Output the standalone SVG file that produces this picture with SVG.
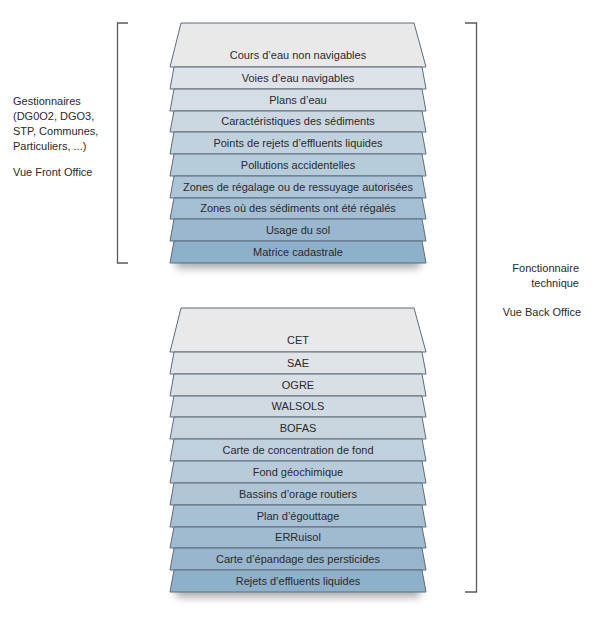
<svg xmlns="http://www.w3.org/2000/svg" width="595" height="624" viewBox="0 0 595 624">
<defs>
<filter id="sh" x="-20%" y="-100%" width="140%" height="300%"><feGaussianBlur stdDeviation="4"/></filter>
<style>
.ly{stroke:#5d6d7b;stroke-width:1;stroke-linejoin:round}
.t{font-family:"Liberation Sans",Arial,sans-serif;font-size:11px;fill:#2a2a2a;text-anchor:middle}
.s{font-family:"Liberation Sans",Arial,sans-serif;font-size:11px;fill:#2a2a2a}
.br{fill:none;stroke:#555a60;stroke-width:1.3}
</style>
</defs>
<rect width="595" height="624" fill="#ffffff"/>
<g id="shadows">
<rect x="176" y="256" width="244" height="12" fill="#000" opacity="0.35" filter="url(#sh)"/>
<rect x="176" y="585" width="244" height="12" fill="#000" opacity="0.35" filter="url(#sh)"/>
</g>
<g id="connectors">
<path class="br" d="M128,23 H117.5 V263 H128"/>
<path class="br" d="M465,23 H476.5 V592 H465"/>
</g>
<g id="front-office">
<g id="l1"><polygon class="ly" fill="#e9e9ea" points="181,23 414,23 426,67 170,67"/><text class="t" x="298" y="59">Cours d’eau non navigables</text></g>
<g id="l2"><polygon class="ly" fill="#dde3e8" points="174,67 422,67 426,89 170,89"/><text class="t" x="298" y="82">Voies d’eau navigables</text></g>
<g id="l3"><polygon class="ly" fill="#d5dee5" points="174,89 422,89 426,111 170,111"/><text class="t" x="298" y="104">Plans d’eau</text></g>
<g id="l4"><polygon class="ly" fill="#cbd8e2" points="174,111 422,111 426,132 170,132"/><text class="t" x="298" y="125">Caractéristiques des sédiments</text></g>
<g id="l5"><polygon class="ly" fill="#c1d2df" points="174,132 422,132 426,154 170,154"/><text class="t" x="298" y="147">Points de rejets d’effluents liquides</text></g>
<g id="l6"><polygon class="ly" fill="#b7ccdb" points="174,154 422,154 426,176 170,176"/><text class="t" x="298" y="169">Pollutions accidentelles</text></g>
<g id="l7"><polygon class="ly" fill="#adc5d8" points="174,176 422,176 426,198 170,198"/><text class="t" x="298" y="191">Zones de régalage ou de ressuyage autorisées</text></g>
<g id="l8"><polygon class="ly" fill="#a4bfd4" points="174,198 422,198 426,219 170,219"/><text class="t" x="298" y="212">Zones où des sédiments ont été régalés</text></g>
<g id="l9"><polygon class="ly" fill="#99b7cf" points="174,219 422,219 426,241 170,241"/><text class="t" x="298" y="234">Usage du sol</text></g>
<g id="l10"><polygon class="ly" fill="#8db0cb" points="174,241 422,241 426,263 170,263"/><text class="t" x="298" y="256">Matrice cadastrale</text></g>
</g>
<g id="back-office">
<g id="b1"><polygon class="ly" fill="#e9e9ea" points="181,308 414,308 426,352 170,352"/><text class="t" x="298" y="344">CET</text></g>
<g id="b2"><polygon class="ly" fill="#dfe4e8" points="174,352 422,352 426,374 170,374"/><text class="t" x="298" y="367">SAE</text></g>
<g id="b3"><polygon class="ly" fill="#d8e0e6" points="174,374 422,374 426,396 170,396"/><text class="t" x="298" y="389">OGRE</text></g>
<g id="b4"><polygon class="ly" fill="#d0dae3" points="174,396 422,396 426,417 170,417"/><text class="t" x="298" y="410">WALSOLS</text></g>
<g id="b5"><polygon class="ly" fill="#c8d5df" points="174,417 422,417 426,439 170,439"/><text class="t" x="298" y="432">BOFAS</text></g>
<g id="b6"><polygon class="ly" fill="#c0d0dd" points="174,439 422,439 426,461 170,461"/><text class="t" x="298" y="454">Carte de concentration de fond</text></g>
<g id="b7"><polygon class="ly" fill="#b8cbda" points="174,461 422,461 426,483 170,483"/><text class="t" x="298" y="476">Fond géochimique</text></g>
<g id="b8"><polygon class="ly" fill="#b0c6d6" points="174,483 422,483 426,505 170,505"/><text class="t" x="298" y="498">Bassins d’orage routiers</text></g>
<g id="b9"><polygon class="ly" fill="#a8c0d3" points="174,505 422,505 426,527 170,527"/><text class="t" x="298" y="520">Plan d’égouttage</text></g>
<g id="b10"><polygon class="ly" fill="#a0bbd0" points="174,527 422,527 426,548 170,548"/><text class="t" x="298" y="541">ERRuisol</text></g>
<g id="b11"><polygon class="ly" fill="#97b5cd" points="174,548 422,548 426,570 170,570"/><text class="t" x="298" y="563">Carte d’épandage des persticides</text></g>
<g id="b12"><polygon class="ly" fill="#8db0cb" points="174,570 422,570 426,592 170,592"/><text class="t" x="298" y="585">Rejets d’effluents liquides</text></g>
</g>
<g id="label-left">
<text class="s" x="13" y="105">Gestionnaires</text>
<text class="s" x="13" y="120">(DG0O2, DGO3,</text>
<text class="s" x="13" y="135">STP, Communes,</text>
<text class="s" x="13" y="150">Particuliers, ...)</text>
<text class="s" x="13" y="176">Vue Front Office</text>
</g>
<g id="label-right">
<text class="s" x="579" y="272" text-anchor="end">Fonctionnaire</text>
<text class="s" x="579" y="287" text-anchor="end">technique</text>
<text class="s" x="581" y="316" text-anchor="end">Vue Back Office</text>
</g>
</svg>
